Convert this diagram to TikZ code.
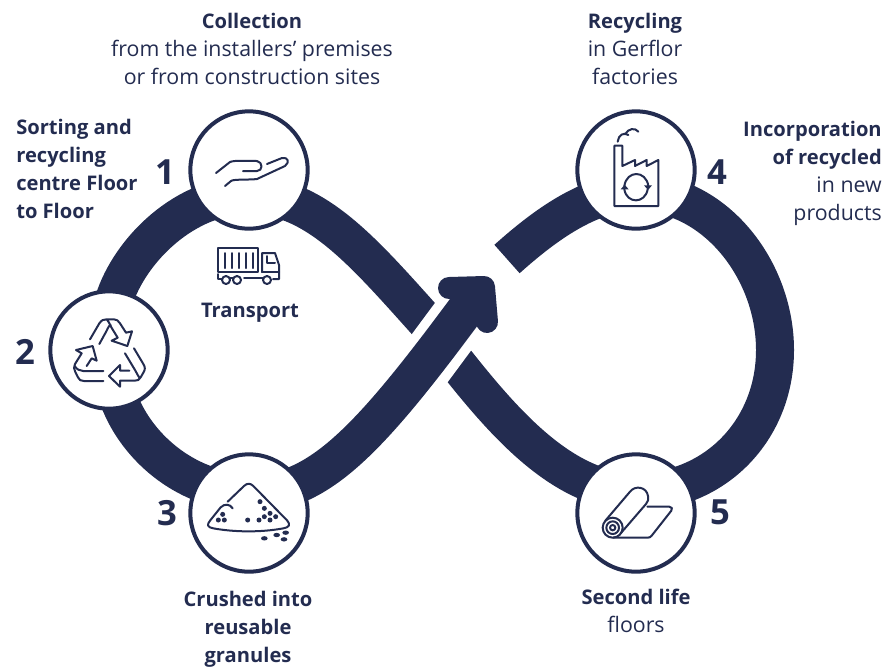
\documentclass[tikz,border=0pt]{standalone}
\usepackage{fontspec}
\setmainfont{Open Sans}
\definecolor{navy}{HTML}{232C50}
\newcommand{\hd}[1]{{\fontsize{15.1}{21}\selectfont\bfseries #1}}
\tikzset{
  band/.style={draw=navy,line width=28.5pt,line cap=butt,line join=round},
  disc/.style={circle,draw=navy,fill=white,line width=3pt,minimum size=88pt,inner sep=0pt},
  icon/.style={draw=navy,line width=1.5pt,line cap=round,line join=round},
  num/.style={text=navy,font=\fontsize{26}{26}\selectfont\bfseries,inner sep=0pt},
  lab/.style={text=navy,font=\fontsize{16}{21}\selectfont,inner sep=0pt,align=center},
  labl/.style={lab,align=left,anchor=north west},
  labr/.style={lab,align=right,anchor=north east}
}
\begin{document}
\begin{tikzpicture}[x=0.75pt,y=-0.75pt]
\useasboundingbox (0,0) rectangle (887,669);
% figure-eight bands
\draw[band] (114,300) .. controls (130,250) and (185,195) .. (249,195) .. controls (320,195) and (370,260) .. (440,337);
\draw[band] (440,342) .. controls (490,405) and (555,492) .. (636,492) .. controls (715,492) and (775,430) .. (775,350) .. controls (775,270) and (715,192) .. (636,192) .. controls (590,192) and (545,225) .. (507,259);
\draw[band] (119,400) .. controls (138,450) and (190,492) .. (249,492);
% arrow
\draw[draw=white,line width=43pt,line cap=butt] (398,401) -- (478,293);
\draw[band] (249,494) .. controls (320,494) and (370,440) .. (478,293);
\draw[draw=navy,line width=16.5pt,line cap=round,line join=round] (449,288) -- (484,287) -- (487,322);
% circles
\node[disc] (n1) at (249,170) {};
\node[disc] (n2) at (109,350) {};
\node[disc] (n3) at (249,513) {};
\node[disc] (n4) at (636,170) {};
\node[disc] (n5) at (636,513) {};
% hand
\draw[icon] (216,173) -- (230,162) .. controls (234,160) and (250,161) .. (257,161) .. controls (263,162) and (263,171) .. (257,171) -- (243,171);
\draw[icon] (225,186) -- (231,181) .. controls (233,179) and (250,180) .. (257,179) -- (285,166) .. controls (290,162) and (288,157) .. (282,158) -- (267,164);
% truck
\draw[icon] (218,248) rectangle (258,272);
\foreach \x in {225,232,239,246,253} \draw[icon] (\x,253) -- (\x,268);
\draw[icon] (262,272) -- (262,253) -- (275,253) -- (279,265) -- (279,279) -- (273,279);
\draw[icon] (267,256) -- (267,263) -- (275,263);
\draw[icon] (262,272) -- (279,272);
\draw[icon] (218,274) -- (218,279) -- (222,279);
\draw[icon] (226,280) circle (4);
\draw[icon] (237,280) circle (4);
\draw[icon] (267,280) circle (4);
\draw[icon] (230,278) -- (233,278);
\draw[icon] (244,278) -- (263,278);
% recycle icon
\begin{scope}[shift={(40,290)},x=0.25pt,y=-0.25pt]
\draw[icon] (150,148) -- (178,100) .. controls (185,90) and (190,88) .. (200,88) -- (222,88) .. controls (230,88) and (235,92) .. (240,100) -- (258,128) -- (276,124) -- (262,168) -- (215,152) -- (233,143) -- (214,112) .. controls (208,100) and (205,92) .. (200,88);
\draw[icon] (178,162) -- (200,122) .. controls (205,112) and (208,104) .. (212,105);
\draw[icon] (140,228) -- (155,205) -- (170,212) -- (158,168) -- (108,180) -- (125,190) -- (105,222) .. controls (100,230) and (102,238) .. (106,246) -- (114,262) .. controls (118,270) and (122,273) .. (132,273) -- (190,273);
\draw[icon] (104,228) .. controls (110,238) and (120,243) .. (130,243) -- (190,243);
\draw[icon] (282,175) -- (310,222) .. controls (316,232) and (316,238) .. (310,248) -- (302,262) .. controls (298,270) and (292,272) .. (284,272) -- (240,272) -- (240,290) -- (207,258) -- (240,225) -- (240,242) -- (268,242);
\draw[icon] (255,190) -- (285,240) .. controls (292,252) and (296,262) .. (300,264);
\end{scope}
% pile icon
\begin{scope}[shift={(180,450)},x=0.25pt,y=-0.25pt]
\draw[icon] (143,155) -- (192,108) .. controls (202,98) and (212,100) .. (220,108) -- (322,212) .. controls (332,224) and (328,232) .. (310,235) .. controls (240,248) and (160,246) .. (100,235) .. controls (82,232) and (80,224) .. (90,212) -- (122,172) .. controls (134,160) and (150,162) .. (158,175);
\foreach \x/\y in {128/193,115/210,133/210,203/210,237/210,240/155,253/175,270/190,253/200,270/210,287/200}
  \fill[navy] (\x,\y) circle (7.5);
\foreach \x/\y in {253/265,290/255,317/248,312/268}
  \fill[navy] (\x,\y) ellipse (10 and 6.5);
\end{scope}
% factory icon
\begin{scope}[shift={(570,100)},x=0.25pt,y=-0.25pt]
\draw[icon] (133,137) -- (157,137) -- (157,198) -- (195,180) -- (195,198) -- (230,180) -- (230,198) -- (265,180) -- (265,318) -- (133,318) -- cycle;
\draw[icon] (143,125) .. controls (145,105) and (162,95) .. (175,105);
\draw[icon] (165,103) .. controls (175,85) and (195,82) .. (205,95);
\draw[icon] (163,258) .. controls (170,210) and (228,210) .. (235,258);
\draw[icon] (233,268) .. controls (225,312) and (170,312) .. (163,268);
\fill[navy] (222,256) -- (246,256) -- (234,270) -- cycle;
\fill[navy] (152,268) -- (176,268) -- (164,254) -- cycle;
\end{scope}
% roll icon
\begin{scope}[shift={(570,450)},x=0.25pt,y=-0.25pt]
\draw[icon] (128,233) circle (30);
\draw[icon] (128,233) circle (19);
\draw[icon] (128,233) circle (8);
\draw[icon] (106,212) -- (180,125) .. controls (195,105) and (230,110) .. (234,138) .. controls (236,148) and (234,155) .. (228,162) -- (152,250);
\draw[icon] (232,170) -- (298,170) .. controls (306,170) and (308,176) .. (304,182) -- (245,257) .. controls (241,262) and (238,263) .. (232,263) -- (130,263);
\end{scope}
% numbers
\node[num] (t1) at (165,172) {1};
\node[num] (t2) at (25,352) {2};
\node[num] (t3) at (167,513) {3};
\node[num] (t4) at (717,172) {4};
\node[num] (t5) at (720,512) {5};
% labels
\node[lab,anchor=north] (l1) at (252,13) {\hd{Collection}\\from the installers’ premises\\or from construction sites};
\node[lab,anchor=north] (l4) at (635,13) {\hd{Recycling}\\in Gerflor\\factories};
\node[labl] (l2) at (16,119) {\hd{Sorting and}\\\hd{recycling}\\\hd{centre Floor}\\\hd{to Floor}};
\node[labr] (l5) at (882,121) {\hd{Incorporation}\\\hd{of recycled}\\in new\\products};
\node[lab] (l6) at (250,313) {\hd{Transport}};
\node[lab,anchor=north] (l3) at (248,591) {\hd{Crushed into}\\\hd{reusable}\\\hd{granules}};
\node[lab,anchor=north] (l7) at (636,589) {\hd{Second life}\\floors};
\end{tikzpicture}
\end{document}
